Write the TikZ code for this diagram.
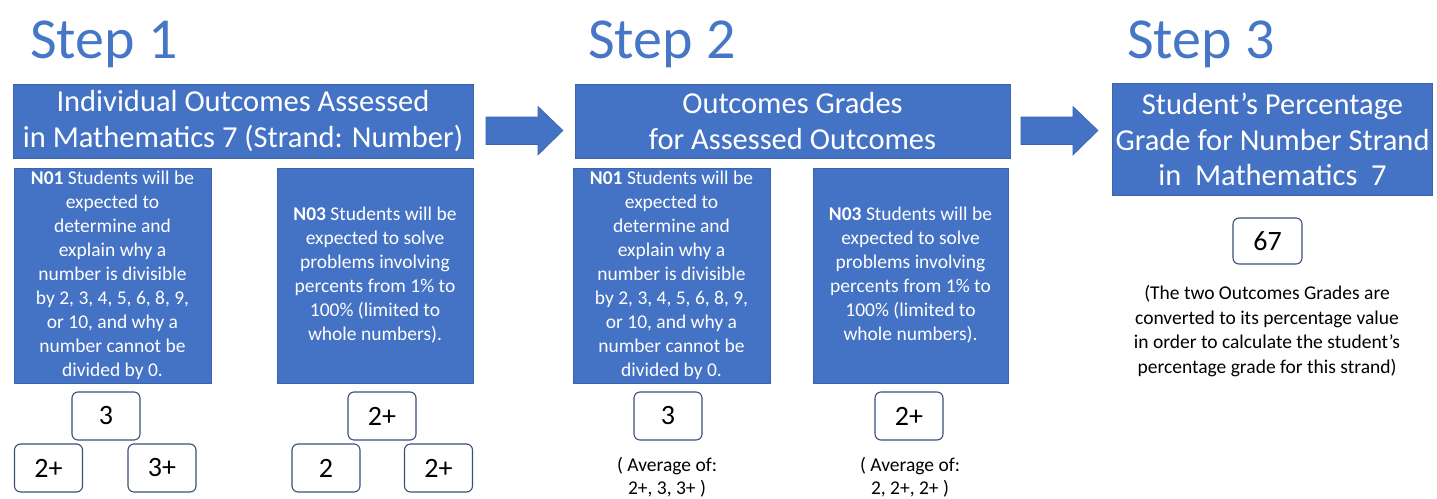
\documentclass[tikz,border=0pt]{standalone}
\usepackage{fontspec}
\setmainfont{Carlito}
\definecolor{boxblue}{HTML}{4472C4}
\definecolor{boxedge}{HTML}{3A64AE}
\definecolor{titleblue}{HTML}{4677C6}
\definecolor{gradeedge}{HTML}{3B4F78}
\tikzset{
  steptitle/.style={anchor=base west,inner sep=0,text=titleblue,font=\fontsize{58}{62}\selectfont},
  headbox/.style={fill=boxblue,draw=boxedge,line width=0.8pt,text=white,align=center,inner sep=0,
     font=\fontsize{30.5}{35.5}\selectfont},
  outbox/.style={fill=boxblue,draw=boxedge,line width=0.8pt,text=white,align=center,inner sep=0,
     minimum height=215,font=\fontsize{19.5}{24}\selectfont},
  gradebox/.style={draw=gradeedge,fill=white,rounded corners=6pt,line width=1.1pt,minimum width=68,
     minimum height=48,inner sep=0,font=\fontsize{28}{30}\selectfont},
  note/.style={align=center,inner sep=0,font=\fontsize{19.5}{23.5}\selectfont},
  blockarrow/.style={fill=boxblue,draw=boxedge,line width=0.6pt}
}
\begin{document}
\begin{tikzpicture}[x=1pt,y=-1pt]
\useasboundingbox (0,0) rectangle (1437,498);
% titles
\node[steptitle] (t1) at (30,58) {Step 1};
\node[steptitle] (t2) at (588,58) {Step 2};
\node[steptitle] (t3) at (1127,58) {Step 3};
% headers
\node[headbox,minimum width=460,minimum height=74] (h1) at (243,121)
  {Individual Outcomes Assessed\\in Mathematics 7 (Strand: Number)};
\node[headbox,minimum width=435,minimum height=74] (h2) at (792.5,121)
  {Outcomes Grades\\for Assessed Outcomes};
\node[headbox,minimum width=320,minimum height=112] (h3) at (1272.5,139.5)
  {Student’s Percentage\\Grade for Number Strand\\in\ \ Mathematics\ \ 7};
% block arrows
\coordinate (a1) at (486,130.5);
\coordinate (a2) at (1021,130.5);
\draw[blockarrow] (a1) ++(0,-13.5) -- ++(52,0) -- ++(0,-10.5) -- ++(25,24) -- ++(-25,24.5)
   -- ++(0,-10.5) -- ++(-52,0) -- cycle;
\draw[blockarrow] (a2) ++(0,-13.5) -- ++(52,0) -- ++(0,-10.5) -- ++(25,24) -- ++(-25,24.5)
   -- ++(0,-10.5) -- ++(-52,0) -- cycle;
% outcome boxes step 1
\node[outbox,minimum width=197] (s1a) at (112.5,275.5)
  {\textbf{N01} Students will be\\expected to\\determine and\\explain why a\\number is divisible\\by 2, 3, 4, 5, 6, 8, 9,\\or 10, and why a\\number cannot be\\divided by 0.};
\node[outbox,minimum width=196] (s1b) at (375,275.5)
  {\textbf{N03} Students will be\\expected to solve\\problems involving\\percents from 1\% to\\100\% (limited to\\whole numbers).};
% outcome boxes step 2
\node[outbox,minimum width=197] (s2a) at (671.5,275.5)
  {\textbf{N01} Students will be\\expected to\\determine and\\explain why a\\number is divisible\\by 2, 3, 4, 5, 6, 8, 9,\\or 10, and why a\\number cannot be\\divided by 0.};
\node[outbox,minimum width=195] (s2b) at (910.5,275.5)
  {\textbf{N03} Students will be\\expected to solve\\problems involving\\percents from 1\% to\\100\% (limited to\\whole numbers).};
% grades step 1
\node[gradebox] (g1) at (106,416) {3};
\node[gradebox] (g2) at (48.5,468) {2+};
\node[gradebox] (g3) at (162,468) {3+};
\node[gradebox] (g4) at (382,416) {2+};
\node[gradebox] (g5) at (326,468) {2};
\node[gradebox] (g6) at (438.5,468) {2+};
% grades step 2
\node[gradebox] (g7) at (668,416) {3};
\node[gradebox] (g8) at (909,416) {2+};
\node[note] (n1) at (667,477) {( Average of:\\2+, 3, 3+ )};
\node[note] (n2) at (910,477) {( Average of:\\2, 2+, 2+ )};
% step 3
\node[gradebox,minimum width=69,minimum height=46] (g9) at (1267.5,241) {67};
\node[note,font=\fontsize{19.5}{24.5}\selectfont] (n3) at (1267,331)
  {(The two Outcomes Grades are\\converted to its percentage value\\in order to calculate the student’s\\percentage grade for this strand)};
\end{tikzpicture}
\end{document}
